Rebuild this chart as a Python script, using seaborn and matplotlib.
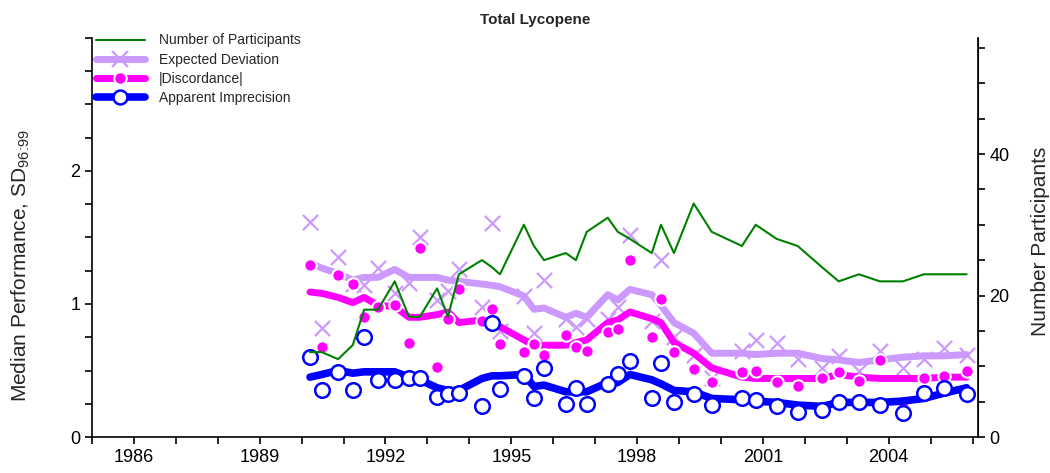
import numpy as np
import pandas as pd
import matplotlib
matplotlib.use("Agg")
import matplotlib.pyplot as plt
from matplotlib.lines import Line2D
from matplotlib.ticker import MultipleLocator
import seaborn as sns

sns.set_style("ticks")
plt.rcParams['font.family'] = ['Liberation Sans', 'DejaVu Sans']
plt.rcParams['mathtext.default'] = 'regular'

# study dates (decimal years)
dates = [1990.20, 1990.48, 1990.87, 1991.22, 1991.49, 1991.82, 1992.22, 1992.56, 1992.82,
         1993.23, 1993.49, 1993.75, 1994.30, 1994.54, 1994.73, 1995.30, 1995.54, 1995.78,
         1996.30, 1996.54, 1996.80, 1997.30, 1997.54, 1997.83, 1998.35, 1998.57, 1998.88,
         1999.35, 1999.78, 2000.50, 2000.83, 2001.33, 2001.83, 2002.41, 2002.81, 2003.29,
         2003.79, 2004.34, 2004.84, 2005.32, 2005.86]

imprecision = [0.60, 0.35, 0.49, 0.35, 0.75, 0.43, 0.43, 0.44, 0.44, 0.30, 0.32, 0.33, 0.23, 0.86,
               0.36, 0.46, 0.29, 0.52, 0.25, 0.37, 0.25, 0.40, 0.47, 0.57, 0.29, 0.56, 0.26, 0.32,
               0.24, 0.29, 0.28, 0.23, 0.19, 0.20, 0.26, 0.26, 0.24, 0.18, 0.33, 0.37, 0.32]
imprecision_smooth = [0.45, 0.47, 0.50, 0.48, 0.49, 0.49, 0.49, 0.45, 0.43, 0.37, 0.35, 0.35, 0.44,
                      0.46, 0.46, 0.47, 0.38, 0.39, 0.34, 0.34, 0.34, 0.41, 0.41, 0.47, 0.43, 0.40,
                      0.35, 0.34, 0.29, 0.28, 0.27, 0.26, 0.24, 0.23, 0.26, 0.26, 0.26, 0.27, 0.29,
                      0.33, 0.37]

discordance = [1.29, 0.68, 1.22, 1.15, 0.90, 0.98, 0.99, 0.71, 1.42, 0.53, 0.89, 1.11, 0.87, 0.96,
               0.70, 0.64, 0.70, 0.62, 0.77, 0.68, 0.65, 0.79, 0.81, 1.33, 0.75, 1.04, 0.64, 0.51,
               0.41, 0.49, 0.50, 0.41, 0.38, 0.44, 0.49, 0.42, 0.58, 0.26, 0.44, 0.46, 0.50]
discordance_smooth = [1.09, 1.08, 1.05, 1.01, 1.05, 0.99, 0.98, 0.90, 0.90, 0.92, 0.94, 0.86, 0.88,
                      0.86, 0.83, 0.73, 0.69, 0.69, 0.69, 0.71, 0.73, 0.86, 0.88, 0.94, 0.89, 0.86,
                      0.71, 0.63, 0.52, 0.45, 0.44, 0.44, 0.44, 0.44, 0.47, 0.45, 0.44, 0.44, 0.44,
                      0.45, 0.45]

expected = [1.62, 0.82, 1.35, 1.15, 1.14, 1.27, 1.08, 1.16, 1.50, 1.03, 1.10, 1.26, 0.98, 1.61,
            0.80, 1.06, 0.78, 1.18, 0.89, 0.83, 0.89, 0.89, 0.98, 1.52, 0.87, 1.33, 0.75, 0.62,
            0.44, 0.65, 0.73, 0.71, 0.59, 0.52, 0.61, 0.50, 0.65, 0.52, 0.59, 0.67, 0.62]
expected_smooth = [1.31, 1.27, 1.23, 1.18, 1.20, 1.20, 1.26, 1.20, 1.20, 1.20, 1.18, 1.17, 1.15,
                   1.14, 1.13, 1.06, 0.96, 0.97, 0.90, 0.93, 0.90, 1.07, 1.03, 1.11, 1.07, 0.99,
                   0.86, 0.78, 0.63, 0.63, 0.62, 0.63, 0.63, 0.59, 0.58, 0.56, 0.58, 0.60, 0.61,
                   0.61, 0.62]

participants = [12, 12, 11, 13, 18, 18, 22, 17, 17, 21, 17, 23, 25, 24, 23, 30, 27, 25, 26, 25, 29,
                31, 29, 28, 26, 30, 26, 33, 29, 27, 30, 28, 27, 24, 22, 23, 22, 22, 23, 23, 23]

df = pd.DataFrame({
    'date': dates,
    'imp': imprecision, 'imp_s': imprecision_smooth,
    'dis': discordance, 'dis_s': discordance_smooth,
    'exp': expected, 'exp_s': expected_smooth,
    'n': participants,
})

c_green = '#008000'
c_lilac = '#CC99FF'
c_mag = '#FF00FF'
c_blue = '#0000FF'

fig = plt.figure(figsize=(10.5, 4.73), dpi=100)
ax = fig.add_axes([0.0876, 0.0761, 0.8434, 0.8436])

# expected deviation
sns.lineplot(data=df, x='date', y='exp_s', color=c_lilac, linewidth=5, sort=False, ax=ax, zorder=2)
sns.scatterplot(data=df, x='date', y='exp', color=c_lilac, marker='x', s=120, linewidth=1.6,
                ax=ax, zorder=3)
# discordance
sns.lineplot(data=df, x='date', y='dis_s', color=c_mag, linewidth=5, sort=False, ax=ax, zorder=4)
sns.scatterplot(data=df, x='date', y='dis', color=c_mag, marker='o', s=80, edgecolor='white',
                linewidth=1.5, ax=ax, zorder=5)
# apparent imprecision
sns.lineplot(data=df, x='date', y='imp_s', color=c_blue, linewidth=5.5, sort=False, ax=ax, zorder=6)
sns.scatterplot(data=df, x='date', y='imp', marker='o', s=110, facecolor='white', edgecolor=c_blue,
                linewidth=1.8, ax=ax, zorder=7)

ax.set_xlim(1985, 2006.12)
ax.set_ylim(0, 3)
ax.xaxis.set_minor_locator(MultipleLocator(1))
ax.set_xticks([1986, 1989, 1992, 1995, 1998, 2001, 2004])
ax.yaxis.set_minor_locator(MultipleLocator(0.25))
ax.set_yticks([0, 1, 2])
ax.tick_params(which='both', direction='out', length=5, width=1.2, colors='black', labelsize=13)
ax.set_xlabel('')
ax.set_ylabel(r'Median Performance, SD$_{96\!:\!99}$', fontsize=15)
ax.yaxis.set_label_coords(-0.068, 0.43)
ax.spines['top'].set_visible(False)
for s in ['left', 'bottom']:
    ax.spines[s].set_linewidth(1.2)
    ax.spines[s].set_color('black')

# participants on right axis
ax2 = ax.twinx()
sns.lineplot(data=df, x='date', y='n', color=c_green, linewidth=1.5, sort=False, ax=ax2)
ax2.set_ylim(0, 56.4)
ax2.set_yticks([0, 20, 40])
ax2.yaxis.set_minor_locator(MultipleLocator(5))
ax2.tick_params(which='both', direction='out', length=5, width=1.2, colors='black', labelsize=13)
ax2.set_ylabel('Number Participants', fontsize=15)
ax2.yaxis.set_label_coords(1.06, 0.49)
ax2.spines['top'].set_visible(False)
ax2.spines['right'].set_linewidth(1.2)
ax2.spines['right'].set_color('black')
ax2.spines['left'].set_visible(False)
ax2.spines['bottom'].set_visible(False)

ax.set_title('Total Lycopene', fontsize=11, fontweight='bold', pad=10)

handles = [
    Line2D([], [], color=c_green, lw=1.5),
    Line2D([], [], color=c_lilac, lw=5, marker='x', ms=11, mew=1.6, mec=c_lilac),
    Line2D([], [], color=c_mag, lw=5, marker='o', ms=9, mfc=c_mag, mec='white', mew=1.5),
    Line2D([], [], color=c_blue, lw=5.5, marker='o', ms=10, mfc='white', mec=c_blue, mew=1.8),
]
labels = ['Number of Participants', 'Expected Deviation', '|Discordance|', 'Apparent Imprecision']
ax2.legend(handles, labels, loc='upper left', bbox_to_anchor=(0.0, 1.022), frameon=False,
           fontsize=10, handlelength=3.5, labelspacing=0.38, borderpad=0, handletextpad=1.0,
           borderaxespad=0.3)

fig.savefig('out.png', dpi=100)
